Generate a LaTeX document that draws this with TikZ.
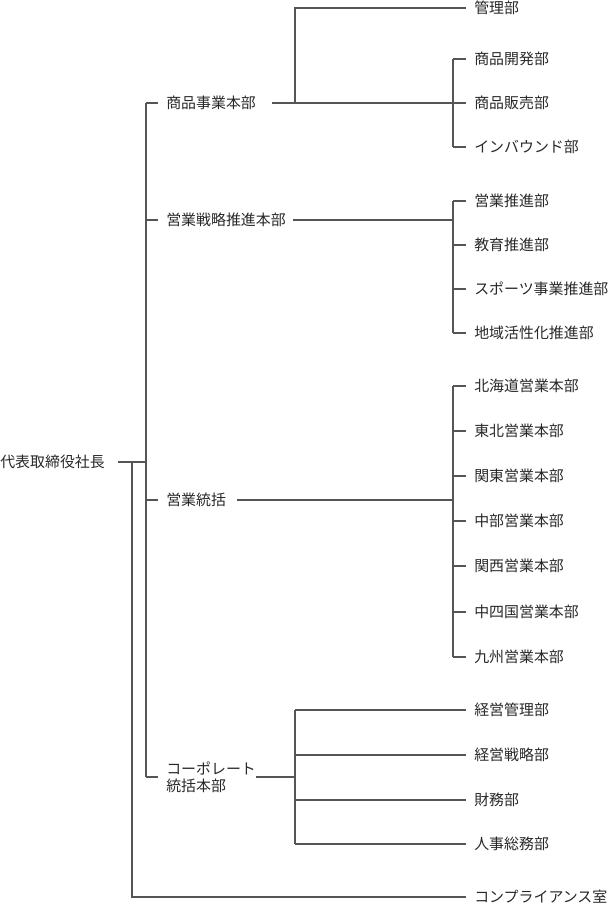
\documentclass[tikz,border=0pt]{standalone}
\usepackage{fontspec}
\usepackage{xcolor}
\usepackage{tikz}
\newfontfamily\jpfont{Noto Sans CJK JP}
\definecolor{textgray}{RGB}{40,40,40}
\definecolor{linegray}{RGB}{85,85,85}

\begin{document}
\begin{tikzpicture}[x=0.75pt, y=-0.75pt,
  unit/.style={anchor=west, inner xsep=6pt, inner ysep=0pt,
               text=textgray, font=\jpfont\fontsize{11.2}{12.8}\selectfont},
  conn/.style={draw=linegray, line width=1.3pt}
]
  \useasboundingbox (0,0) rectangle (611,905);

  % top
  \node[unit, inner xsep=0pt] (ceo) at (0,462) {代表取締役社長};
  \coordinate (spine) at (146,462);
  \coordinate (side) at (132,462);
  \draw[conn] (118,462) -- (spine);

  % headquarters
  \node[unit] (shohin) at (158,103) {商品事業本部};
  \node[unit] (senryaku) at (158,220) {営業戦略推進本部};
  \node[unit] (eigyo) at (158,500) {営業統括};
  \node[unit, align=left] (corp) at (158,777) {コーポレート\\統括本部};

  % departments
  \foreach \name/\y/\txt in {kanri/8/管理部, kaihatsu/59/商品開発部,
      hanbai/103/商品販売部, inbound/147/インバウンド部,
      suishin/201/営業推進部, kyoiku/245/教育推進部,
      sports/289/スポーツ事業推進部, chiiki/333/地域活性化推進部,
      hokkaido/386/北海道営業本部, tohoku/431/東北営業本部,
      kanto/476/関東営業本部, chubu/521/中部営業本部,
      kansai/566/関西営業本部, chushikoku/612/中四国営業本部,
      kyushu/657/九州営業本部,
      keieikanri/710/経営管理部, keieisenryaku/755/経営戦略部,
      zaimu/800/財務部, jinji/844/人事総務部,
      comp/897/コンプライアンス室}
    \node[unit] (\name) at (466,\y) {\txt};

  % spine to headquarters
  \draw[conn] (spine |- shohin.west) -- (spine |- corp.west);
  \foreach \hq in {shohin, senryaku, eigyo, corp}
    \draw[conn] (spine |- \hq.west) -- (\hq.west);
  \draw[conn] (side) |- (comp.west);

  % 商品事業本部
  \coordinate (busA) at (453,103);
  \coordinate (busK) at (295,103);
  \draw[conn] (272,103) -- (busA);
  \draw[conn] (busK) |- (kanri.west);
  \draw[conn] (busA |- kaihatsu.west) -- (busA |- inbound.west);
  \foreach \d in {kaihatsu, hanbai, inbound}
    \draw[conn] (busA |- \d.west) -- (\d.west);

  % 営業戦略推進本部
  \coordinate (busB) at (453,220);
  \draw[conn] (293,220) -- (busB);
  \draw[conn] (busB |- suishin.west) -- (busB |- chiiki.west);
  \foreach \d in {suishin, kyoiku, sports, chiiki}
    \draw[conn] (busB |- \d.west) -- (\d.west);

  % 営業統括
  \coordinate (busC) at (453,500);
  \draw[conn] (237,500) -- (busC);
  \draw[conn] (busC |- hokkaido.west) -- (busC |- kyushu.west);
  \foreach \d in {hokkaido, tohoku, kanto, chubu, kansai, chushikoku, kyushu}
    \draw[conn] (busC |- \d.west) -- (\d.west);

  % コーポレート統括本部
  \coordinate (busD) at (295,777);
  \draw[conn] (256,777) -- (busD);
  \draw[conn] (busD |- keieikanri.west) -- (busD |- jinji.west);
  \foreach \d in {keieikanri, keieisenryaku, zaimu, jinji}
    \draw[conn] (busD |- \d.west) -- (\d.west);
\end{tikzpicture}
\end{document}
